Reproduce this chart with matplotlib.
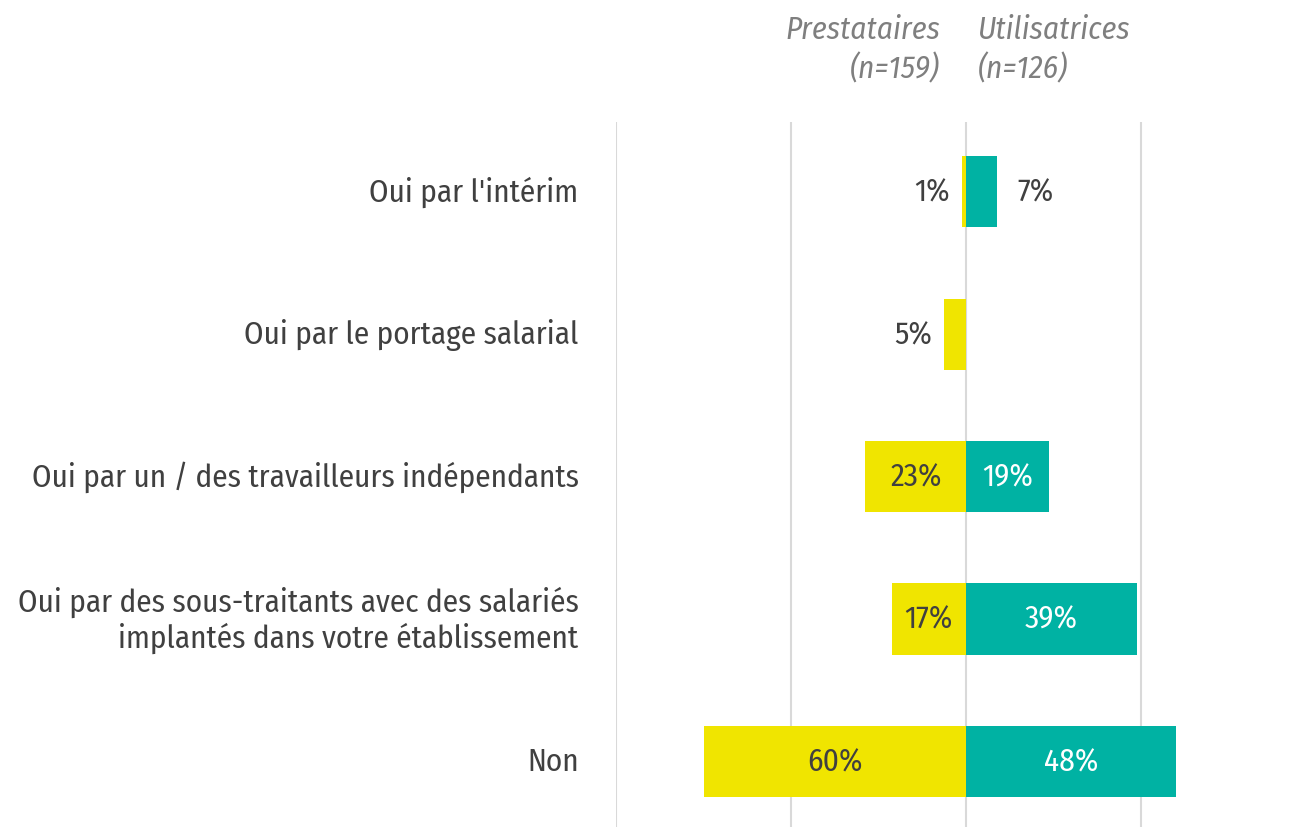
import numpy as np
import matplotlib.pyplot as plt
from matplotlib import font_manager

# data
categories = ["Oui par l'intérim",
              "Oui par le portage salarial",
              "Oui par un / des travailleurs indépendants",
              "Oui par des sous-traitants avec des salariés\nimplantés dans votre établissement",
              "Non"]
prestataires = [1, 5, 23, 17, 60]
utilisatrices = [7, 0, 19, 39, 48]

names = set(f.name for f in font_manager.fontManager.ttflist)
fam = 'DejaVu Sans'
for cand in ['Fira Sans Condensed', 'Roboto Condensed', 'IBM Plex Sans Condensed',
             'Open Sans Condensed', 'Liberation Sans Narrow']:
    if cand in names:
        fam = cand
        break
plt.rcParams['font.family'] = [fam, 'DejaVu Sans']

yellow = '#F0E500'
teal = '#00B2A3'
dark = '#404040'
fs = 22.5

fig = plt.figure(figsize=(13.04, 8.28), dpi=100)
ax = fig.add_axes([616 / 1304, 0, 688 / 1304, 705 / 828])

y = np.arange(len(categories))
ax.barh(y, [-v for v in prestataires], height=0.5, color=yellow, zorder=2)
ax.barh(y, utilisatrices, height=0.5, color=teal, zorder=2)

for i in range(len(categories)):
    p = prestataires[i]
    u = utilisatrices[i]
    if p > 0:
        if p >= 10:
            ax.text(-p / 2, i, f'{p}%', ha='center', va='center', fontsize=fs, color=dark, zorder=3)
        else:
            ax.text(-p - 2.8, i, f'{p}%', ha='right', va='center', fontsize=fs, color=dark, zorder=3)
    if u > 0:
        if u >= 10:
            ax.text(u / 2, i, f'{u}%', ha='center', va='center', fontsize=fs, color='white', zorder=3)
        else:
            ax.text(u + 4.6, i, f'{u}%', ha='left', va='center', fontsize=fs, color=dark, zorder=3)

for gx in [-80, -40, 0, 40]:
    ax.axvline(gx, color='#d9d9d9', lw=1.5, zorder=1)

ax.set_xlim(-80, 77.2)
ax.set_ylim(4.46, -0.49)
ax.set_yticks(y)
ax.set_yticklabels(categories, fontsize=fs, color=dark, va='center')
ax.tick_params(axis='y', length=0, pad=27)
ax.set_xticks([])
for s in ax.spines.values():
    s.set_visible(False)

fig.text(940 / 1304, 1 - 50 / 828, 'Prestataires\n(n=159)', ha='right', va='center',
         fontsize=fs, style='italic', color='#7f7f7f', linespacing=1.3)
fig.text(978 / 1304, 1 - 50 / 828, 'Utilisatrices\n(n=126)', ha='left', va='center',
         fontsize=fs, style='italic', color='#7f7f7f', linespacing=1.3)

fig.savefig('out.png', dpi=100)
